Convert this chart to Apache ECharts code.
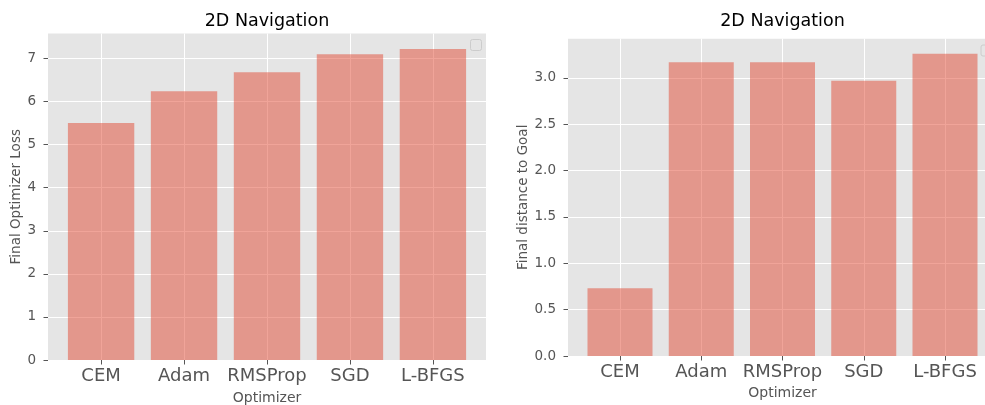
<!DOCTYPE html>
<html>
<head>
<meta charset="utf-8">
<script src="https://cdn.jsdelivr.net/npm/echarts@6/dist/echarts.min.js"></script>
<style>
  html, body { margin: 0; padding: 0; background: #ffffff; }
  #chart { width: 985px; height: 405px; }
</style>
</head>
<body>
<div id="chart"></div>
<script>
// Optimizers compared on the 2D navigation task
const categories = ['CEM', 'Adam', 'RMSProp', 'SGD', 'L-BFGS'];
const finalLoss = [5.50, 6.24, 6.68, 7.10, 7.22];
const finalDistance = [0.73, 3.17, 3.17, 2.97, 3.26];
const lossTicks = [0, 1, 2, 3, 4, 5, 6, 7];
const distanceTicks = [0, 0.5, 1.0, 1.5, 2.0, 2.5, 3.0];

const FONT = 'DejaVu Sans';
const TEXT_GREY = '#555555';
const BAR_COLOR = 'rgba(226, 74, 51, 0.5)';
const PANEL_BG = '#E5E5E5';

// x range padded like a bar plot with 5% margins around the bars
const xMin = -0.64, xMax = 4.64;
const catIdx = categories.map((_, i) => i);

const panels = [
  { left: 48, top: 33.5, width: 438, height: 326.5, yMax: 7.22 * 1.05,
    ticks: lossTicks, fmt: v => String(v), values: finalLoss,
    yName: 'Final Optimizer Loss', yNameGap: 20, xNameGap: 31 },
  { left: 568, top: 38.7, width: 429, height: 317.3, yMax: 3.26 * 1.05,
    ticks: distanceTicks, fmt: v => v.toFixed(1), values: finalDistance,
    yName: 'Final distance to Goal', yNameGap: 34, xNameGap: 30 }
];

const chart = echarts.init(document.getElementById('chart'), null, { renderer: 'canvas' });

const option = {
  animation: false,
  backgroundColor: '#ffffff',
  title: panels.map(p => ({
    text: '2D Navigation',
    left: p.left + p.width / 2,
    top: 12,
    textAlign: 'center',
    padding: 0,
    textStyle: { fontFamily: FONT, fontSize: 17.5, fontWeight: 'normal', color: '#000000' }
  })),
  grid: panels.map(p => ({
    left: p.left, top: p.top, width: p.width, height: p.height,
    outerBoundsMode: 'none',
    show: true, backgroundColor: PANEL_BG, borderWidth: 0, containLabel: false
  })),
  xAxis: panels.map((p, i) => ({
    type: 'value', gridIndex: i, min: xMin, max: xMax,
    name: 'Optimizer', nameLocation: 'middle', nameGap: p.xNameGap,
    nameTextStyle: { fontFamily: FONT, fontSize: 14, color: TEXT_GREY },
    axisLine: { show: false, onZero: false },
    axisTick: { show: true, inside: false, customValues: catIdx, length: 4.5,
                lineStyle: { color: TEXT_GREY, width: 1 } },
    axisLabel: { customValues: catIdx, formatter: v => categories[Math.round(v)] || '',
                 fontFamily: FONT, fontSize: 18, color: TEXT_GREY, margin: 7 },
    splitLine: { show: true, lineStyle: { color: '#ffffff', width: 1 } }
  })),
  yAxis: panels.map((p, i) => ({
    type: 'value', gridIndex: i, min: 0, max: p.yMax,
    name: p.yName, nameLocation: 'middle', nameGap: p.yNameGap,
    nameTextStyle: { fontFamily: FONT, fontSize: 13.5, color: TEXT_GREY },
    axisLine: { show: false, onZero: false },
    axisTick: { show: true, inside: false, customValues: p.ticks, length: 4.5,
                lineStyle: { color: TEXT_GREY, width: 1 } },
    axisLabel: { customValues: p.ticks, formatter: p.fmt,
                 fontFamily: FONT, fontSize: 13.5, color: TEXT_GREY, margin: 12 },
    splitLine: { show: true, lineStyle: { color: '#ffffff', width: 1 } }
  })),
  series: panels.map((p, i) => ({
    type: 'bar', xAxisIndex: i, yAxisIndex: i,
    barWidth: p.width / (xMax - xMin) * 0.8,
    itemStyle: { color: BAR_COLOR },
    data: p.values.map((v, k) => [k, v])
  })),
  graphic: [
    // empty legend frames in the upper right of each panel
    { type: 'rect', left: 470, top: 39, shape: { width: 11, height: 11, r: 2 },
      style: { fill: 'rgba(229,229,229,0.8)', stroke: '#cccccc', lineWidth: 1 }, z: 100 },
    { type: 'rect', left: 980.5, top: 44.5, shape: { width: 11, height: 11, r: 2 },
      style: { fill: 'rgba(229,229,229,0.8)', stroke: '#cccccc', lineWidth: 1 }, z: 100 }
  ]
};

chart.setOption(option);
</script>
</body>
</html>
